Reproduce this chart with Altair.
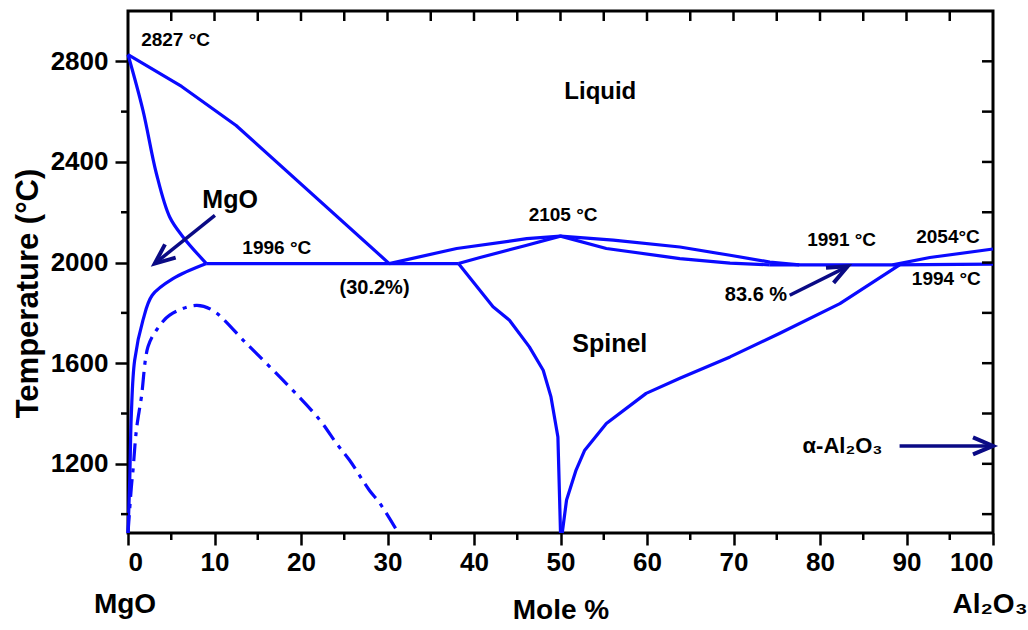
import math
import altair as alt
import pandas as pd

# ---------------- data ----------------
X_DOMAIN = [0, 100]
T_DOMAIN = [925, 3000]
W, H = 865, 522

# phase boundaries (mole % Al2O3, temperature degC)
liq_mgo_x = [0, 6.2, 12.5, 30.2]
liq_mgo_t = [2827, 2700, 2545, 1996]
sol_mgo_x = [0, 1.73, 3.28, 4.82, 6.36, 9.06]
sol_mgo_t = [2827, 2605, 2354, 2181, 2102, 1996]
eut1_x = [9.06, 38.2]
eut1_t = [1996, 1996]
liq_sp_x = [30.2, 38.0, 46.1, 50.0, 56.1, 63.8, 69.6, 74.2, 77.6]
liq_sp_t = [1996, 2056, 2095, 2105, 2089, 2062, 2029, 2002, 1991]
sol_sp_x = [38.2, 40.7, 46.1, 50.0, 55.3, 63.8, 69.6, 74.2]
sol_sp_t = [1996, 2020, 2069, 2105, 2056, 2016, 1998, 1991]
eut2_x = [74.2, 88.4, 100]
eut2_t = [1991, 1991, 1994]
liq_al_x = [88.4, 92.7, 100]
liq_al_t = [1991, 2020, 2054]
solv_sp_r_x = [89.2, 82.3, 75.3, 69.6, 63.8, 59.9, 55.3, 52.8, 51.8, 50.7, 50.2]
solv_sp_r_t = [1991, 1837, 1718, 1625, 1540, 1480, 1360, 1254, 1175, 1056, 925]
solv_sp_l_x = [38.2, 42.2, 44.1, 46.4, 48.0, 48.9, 49.7, 49.9, 50.0]
solv_sp_l_t = [1996, 1824, 1771, 1665, 1572, 1466, 1307, 1056, 925]
solv_mgo_x = [9.06, 5.2, 2.8, 1.73, 0.77, 0.39, 0.2, 0]
solv_mgo_t = [1996, 1936, 1870, 1771, 1612, 1400, 1135, 925]

# dash-dot curve
dd_x = [0, 0.39, 0.58, 0.97, 1.55, 2.31, 3.28, 4.82, 7.9, 9.8, 13.7, 18.3, 22.2, 24.1, 25.6, 27.9, 29.1, 31.2]
dd_t = [925, 1108, 1175, 1334, 1466, 1665, 1731, 1791, 1830, 1810, 1678, 1519, 1373, 1281, 1215, 1095, 1044, 928]

# tick values
left_major = [1200, 1600, 2000, 2400, 2800]
left_minor = [1000, 1400, 1800, 2200, 2600]
bottom_major = [0, 10, 20, 30, 40, 50, 60, 70, 80, 90, 100]
bottom_minor = [5, 15, 25, 35, 45, 55, 65, 75, 85, 95]

# annotations
ann_text = ["2827 °C", "Liquid", "MgO", "1996 °C", "(30.2%)", "2105 °C", "Spinel",
            "1991 °C", "2054°C", "1994 °C", "83.6 %", "α-Al₂O₃"]
ann_x = [5.5, 54.6, 11.8, 17.2, 28.5, 50.3, 55.7, 82.5, 94.8, 94.6, 72.6, 82.6]
ann_t = [2883, 2678, 2247, 2057, 1897, 2188, 1678, 2089, 2102, 1936, 1870, 1271]
ann_size = [19, 24, 25, 19, 20, 19, 25, 19, 19, 19, 20, 22]

# arrows (tail -> tip)
arr_x1 = [10.05, 76.5, 89.2]
arr_t1 = [2188, 1870, 1271]
arr_x2 = [3.09, 83.2, 100]
arr_t2 = [1996, 1985, 1271]

# ---------------- tables ----------------
straight = {
    "liq_mgo": (liq_mgo_x, liq_mgo_t),
    "eut1": (eut1_x, eut1_t), "liq_sp": (liq_sp_x, liq_sp_t),
    "sol_sp": (sol_sp_x, sol_sp_t), "eut2": (eut2_x, eut2_t),
    "liq_al": (liq_al_x, liq_al_t), "solv_sp_r": (solv_sp_r_x, solv_sp_r_t),
    "solv_sp_l": (solv_sp_l_x, solv_sp_l_t),
}
smooth = {
    "sol_mgo": (sol_mgo_x, sol_mgo_t), "solv_mgo": (solv_mgo_x, solv_mgo_t),
}


def to_df(d):
    rows = []
    for name, (xs_, ts_) in d.items():
        for i, (xv, tv) in enumerate(zip(xs_, ts_)):
            rows.append({"curve": name, "i": i, "x": xv, "t": tv})
    return pd.DataFrame(rows)


lines_df = to_df(straight)
smooth_df = to_df(smooth)
dd_df = pd.DataFrame({"i": range(len(dd_x)), "x": dd_x, "t": dd_t})

ann_df = pd.DataFrame({"x": ann_x, "t": ann_t, "text": ann_text, "fs": ann_size})

sx = W / (X_DOMAIN[1] - X_DOMAIN[0])
sy = H / (T_DOMAIN[1] - T_DOMAIN[0])
angles = []
for a, b, c, d in zip(arr_x1, arr_t1, arr_x2, arr_t2):
    dx = (c - a) * sx
    dy = -(d - b) * sy
    angles.append(math.degrees(math.atan2(dx, -dy)) % 360)
arr_df = pd.DataFrame({"x": arr_x1, "t": arr_t1, "x2": arr_x2, "t2": arr_t2})
head_df = pd.DataFrame({"x": arr_x2, "t": arr_t2, "ang": angles})

BLUE = "#0a0aff"
NAVY = "#0a0a85"
FONT = "Liberation Sans"

xs = alt.Scale(domain=X_DOMAIN, nice=False, zero=False)
ys = alt.Scale(domain=T_DOMAIN, nice=False, zero=False)

main = alt.Chart(lines_df).mark_line(color=BLUE, strokeWidth=3.2, strokeJoin="round").encode(
    x=alt.X("x:Q", scale=xs, axis=alt.Axis(
        values=bottom_major, format="d", tickSize=12, tickWidth=2.5, labelFontSize=26,
        labelPadding=4, title="Mole %", titleFontSize=28, titleY=85,
        titleBaseline="alphabetic")),
    y=alt.Y("t:Q", scale=ys, axis=alt.Axis(
        values=left_major, format="d", tickSize=13, tickWidth=2.5, labelFontSize=26,
        labelPadding=7, title="Temperature (°C)", titleFontSize=31,
        titleX=-91, titleY=282, titleAngle=270, titleBaseline="alphabetic")),
    detail="curve:N",
    order="i:Q",
)

smooth_l = alt.Chart(smooth_df).mark_line(
    color=BLUE, strokeWidth=3.2, interpolate="catmull-rom").encode(
    x="x:Q", y="t:Q", detail="curve:N", order="i:Q")

dashdot = alt.Chart(dd_df).mark_line(
    color=BLUE, strokeWidth=3.2, strokeDash=[18, 7, 4, 7], interpolate="catmull-rom").encode(
    x="x:Q", y="t:Q", order="i:Q")

# minor / mirrored ticks
tk = dict(color="black", strokeWidth=2.5)
left_minor_r = alt.Chart(pd.DataFrame({"t": left_minor})).mark_rule(**tk).encode(
    y="t:Q", x=alt.value(-7), x2=alt.value(0))
right_r = alt.Chart(pd.DataFrame({"t": left_major + left_minor})).mark_rule(**tk).encode(
    y="t:Q", x=alt.value(W - 11), x2=alt.value(W))
bottom_minor_r = alt.Chart(pd.DataFrame({"x": bottom_minor})).mark_rule(**tk).encode(
    x="x:Q", y=alt.value(H), y2=alt.value(H + 7))
top_r = alt.Chart(pd.DataFrame({"x": bottom_major[1:-1] + bottom_minor})).mark_rule(**tk).encode(
    x="x:Q", y=alt.value(0), y2=alt.value(10))

texts = alt.Chart(ann_df).mark_text(font=FONT, fontWeight="bold", color="black",
                                    align="center", baseline="middle").encode(
    x="x:Q", y="t:Q", text="text:N", size=alt.Size("fs:Q", scale=None, legend=None))

arrows = alt.Chart(arr_df).mark_rule(color=NAVY, strokeWidth=3.5).encode(
    x="x:Q", y="t:Q", x2="x2:Q", y2="t2:Q")
heads = alt.Chart(head_df).mark_point(
    shape="M-0.85,2L0,0L0.85,2", filled=False, color=NAVY, strokeWidth=4,
    size=400, opacity=1, strokeJoin="miter").encode(
    x="x:Q", y="t:Q", angle=alt.Angle("ang:Q", scale=None))

comp_df = pd.DataFrame({"x": [0, 100], "text": ["MgO", "Al₂O₃"]})
comp = alt.Chart(comp_df).mark_text(
    font=FONT, fontWeight="bold", fontSize=28, color="black", align="center",
    baseline="alphabetic", dx=-3).encode(x="x:Q", y=alt.value(602), text="text:N")

chart = alt.layer(
    main, smooth_l, dashdot, left_minor_r, right_r, bottom_minor_r, top_r,
    arrows, heads, texts, comp
).properties(
    width=W, height=H,
    autosize=alt.AutoSizeParams(type="none"),
    padding={"left": 128, "top": 11, "right": 35, "bottom": 97},
    background="white",
).configure_view(
    stroke="black", strokeWidth=3
).configure_axis(
    grid=False, domain=False, tickColor="black", labelColor="black", titleColor="black",
    labelFont=FONT, titleFont=FONT, labelFontWeight="bold", titleFontWeight="bold",
)

chart.save("out.html", embed_options={"renderer": "svg", "actions": False})
